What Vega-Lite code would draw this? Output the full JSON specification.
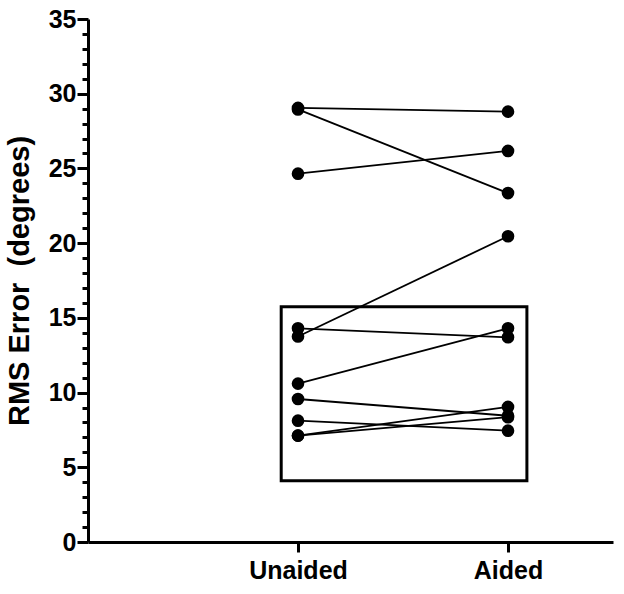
{
  "$schema": "https://vega.github.io/schema/vega-lite/v6.json",
  "autosize": {"type": "none"},
  "padding": {"left": 88, "top": 19, "right": 11, "bottom": 52},
  "width": 525,
  "height": 523,
  "background": "white",
  "config": {"view": {"stroke": null}, "font": "Liberation Sans"},
  "datasets": {
    "obs": [
      {"subject": 1, "condition": "Unaided", "pos": 1, "rms": 29.05},
      {"subject": 1, "condition": "Aided", "pos": 2, "rms": 28.8},
      {"subject": 2, "condition": "Unaided", "pos": 1, "rms": 28.95},
      {"subject": 2, "condition": "Aided", "pos": 2, "rms": 23.35},
      {"subject": 3, "condition": "Unaided", "pos": 1, "rms": 24.65},
      {"subject": 3, "condition": "Aided", "pos": 2, "rms": 26.17},
      {"subject": 4, "condition": "Unaided", "pos": 1, "rms": 13.75},
      {"subject": 4, "condition": "Aided", "pos": 2, "rms": 20.46},
      {"subject": 5, "condition": "Unaided", "pos": 1, "rms": 14.3},
      {"subject": 5, "condition": "Aided", "pos": 2, "rms": 13.7},
      {"subject": 6, "condition": "Unaided", "pos": 1, "rms": 10.6},
      {"subject": 6, "condition": "Aided", "pos": 2, "rms": 14.3},
      {"subject": 7, "condition": "Unaided", "pos": 1, "rms": 9.57},
      {"subject": 7, "condition": "Aided", "pos": 2, "rms": 8.45},
      {"subject": 8, "condition": "Unaided", "pos": 1, "rms": 8.12},
      {"subject": 8, "condition": "Aided", "pos": 2, "rms": 7.45},
      {"subject": 9, "condition": "Unaided", "pos": 1, "rms": 7.12},
      {"subject": 9, "condition": "Aided", "pos": 2, "rms": 9.04},
      {"subject": 10, "condition": "Unaided", "pos": 1, "rms": 7.12},
      {"subject": 10, "condition": "Aided", "pos": 2, "rms": 8.35}
    ],
    "box": [
      {"x0": 0.92, "x1": 2.09, "y0": 4.1, "y1": 15.75}
    ]
  },
  "layer": [
    {
      "data": {"name": "box"},
      "mark": {"type": "rect", "fill": null, "stroke": "black", "strokeWidth": 3},
      "encoding": {
        "x": {
          "field": "x0", "type": "quantitative",
          "scale": {"domain": [0, 2.5], "nice": false},
          "axis": {
            "values": [1, 2], "title": null, "grid": false,
            "labelExpr": "datum.value === 1 ? 'Unaided' : 'Aided'",
            "domainColor": "black", "domainWidth": 3,
            "tickColor": "black", "tickWidth": 3, "tickSize": 10,
            "labelFont": "Liberation Sans", "labelFontWeight": "bold", "labelFontSize": 25,
            "labelColor": "black", "labelPadding": 6
          }
        },
        "x2": {"field": "x1"},
        "y": {
          "field": "y0", "type": "quantitative",
          "scale": {"domain": [0, 35], "nice": false},
          "axis": {
            "values": [0,1,2,3,4,5,6,7,8,9,10,11,12,13,14,15,16,17,18,19,20,21,22,23,24,25,26,27,28,29,30,31,32,33,34,35],
            "tickCount": 40,
            "labelExpr": "datum.value % 5 === 0 ? datum.label : ''",
            "title": "RMS Error\u00a0 (degrees)", "grid": false,
            "titleFont": "Liberation Sans", "titleFontWeight": "bold", "titleFontSize": 29,
            "titleColor": "black", "titlePadding": 14,
            "domainColor": "black", "domainWidth": 3,
            "tickColor": "black", "tickWidth": 3,
            "tickSize": {"condition": {"test": "datum.value % 5 === 0", "value": 11}, "value": 6},
            "labelFont": "Liberation Sans", "labelFontWeight": "bold", "labelFontSize": 25,
            "labelColor": "black", "labelPadding": 1, "labelOverlap": false
          }
        },
        "y2": {"field": "y1"}
      }
    },
    {
      "data": {"name": "obs"},
      "mark": {"type": "line", "color": "black", "strokeWidth": 1.8},
      "encoding": {
        "x": {"field": "pos", "type": "quantitative"},
        "y": {"field": "rms", "type": "quantitative"},
        "detail": {"field": "subject"},
        "order": {"field": "pos"}
      }
    },
    {
      "data": {"name": "obs"},
      "mark": {"type": "point", "filled": true, "color": "black", "opacity": 1, "size": 160},
      "encoding": {
        "x": {"field": "pos", "type": "quantitative"},
        "y": {"field": "rms", "type": "quantitative"}
      }
    }
  ]
}
